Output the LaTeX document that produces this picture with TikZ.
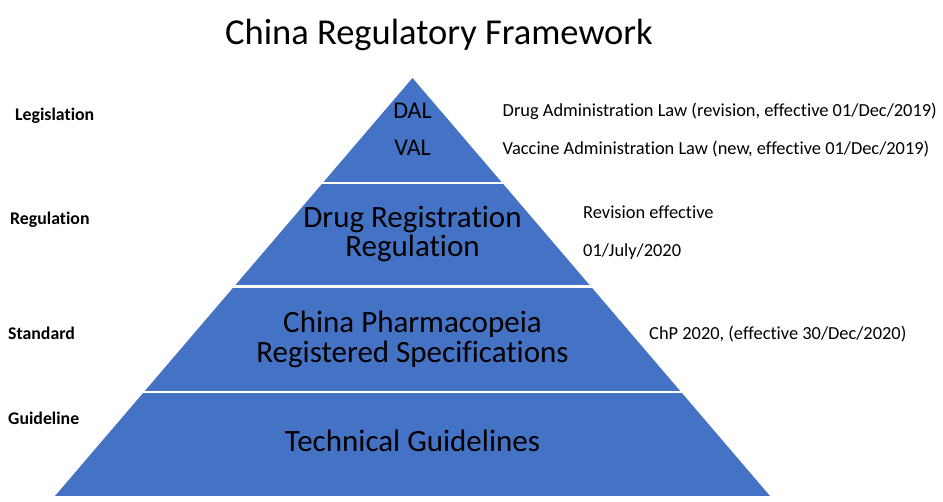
\documentclass[tikz,border=0pt]{standalone}
\usepackage{fontspec}
\setmainfont{Carlito}[RawFeature={-liga}]
\definecolor{pyrblue}{HTML}{4472C4}
\begin{document}
\begin{tikzpicture}[x=1pt,y=-1pt,
  sep/.style={white,line width=2.5pt},
  lvl/.style={font=\fontsize{17.8}{20}\selectfont\bfseries,anchor=base west,inner sep=0pt},
  note/.style={font=\fontsize{18.4}{21}\selectfont,anchor=base west,inner sep=0pt},
  big/.style={font=\fontsize{31}{34}\selectfont,anchor=base,inner sep=0pt},
  mid/.style={font=\fontsize{24}{27}\selectfont,anchor=base,inner sep=0pt}]
\useasboundingbox (0,0) rectangle (943,502);
% pyramid
\coordinate (apex) at (412.5,78);
\coordinate (bl) at (55,496);
\coordinate (br) at (770,496);
\fill[pyrblue] (apex) -- (br) -- (bl) -- cycle;
\coordinate (s1l) at (300,183); \coordinate (s1r) at (525,183);
\coordinate (s2l) at (200,286.5); \coordinate (s2r) at (625,286.5);
\coordinate (s3l) at (100,392); \coordinate (s3r) at (725,392);
\draw[sep] (s1l) -- (s1r);
\draw[sep] (s2l) -- (s2r);
\draw[sep] (s3l) -- (s3r);
% title
\node[font=\fontsize{36.5}{40}\selectfont,anchor=base,inner sep=0pt] (title) at (439,45) {China Regulatory Framework};
% inner texts
\node[mid] (dal) at (412.5,118.5) {DAL};
\node[mid] (val) at (412.5,155.5) {VAL};
\node[big] (drr1) at (412.5,228) {Drug Registration};
\node[big] (drr2) at (412.5,257) {Regulation};
\node[big] (chp1) at (412.5,333) {China Pharmacopeia};
\node[big] (chp2) at (412.5,363) {Registered Specifications};
\node[big] (tg) at (412.5,452) {Technical Guidelines};
% left labels
\node[lvl] (leg) at (15,121) {Legislation};
\node[lvl] (reg) at (10,225) {Regulation};
\node[lvl] (std) at (8,340) {Standard};
\node[lvl] (gui) at (8,424.5) {Guideline};
% right notes
\node[note] (n1) at (502.5,117) {Drug Administration Law (revision, effective 01/Dec/2019)};
\node[note] (n2) at (502.5,155) {Vaccine Administration Law (new, effective 01/Dec/2019)};
\node[note] (n3) at (583,219) {Revision effective};
\node[note] (n4) at (583,257) {01/July/2020};
\node[note] (n5) at (649,340) {ChP 2020, (effective 30/Dec/2020)};
\end{tikzpicture}
\end{document}
